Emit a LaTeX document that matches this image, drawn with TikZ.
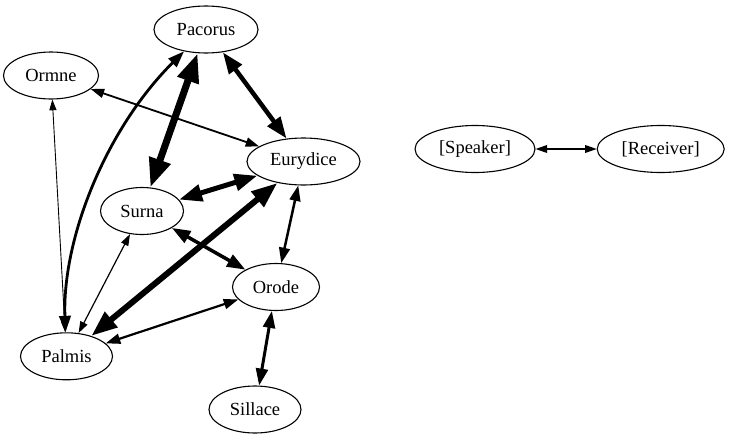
\documentclass[tikz,border=0pt]{standalone}
\usepackage{fontspec}
\setmainfont{Liberation Serif}
\newfontfamily\actorfont{Liberation Serif}
\usetikzlibrary{shapes.geometric,arrows.meta}

\begin{document}
\begin{tikzpicture}[x=1pt,y=-1pt,
  actor/.style={draw,ellipse,line width=1.1pt,inner sep=0pt,minimum height=47pt,
    font=\actorfont\fontsize{18.5}{20}\selectfont},
  rel/.code={\pgfmathsetmacro\hl{8+3*#1}\pgfmathsetmacro\hw{5+2.3*#1}%
    \tikzset{line width=#1pt,>={Triangle[length=\hl pt,width=\hw pt]},<->}}]

\useasboundingbox (0,0) rectangle (730,439);

%左边的人物
\node[actor,minimum width=104pt] (pac) at (206,29.5) {Pacorus};
\node[actor,minimum width=95pt]  (orm) at (51,75.5) {Ormne};
\node[actor,minimum width=113pt] (eur) at (303.5,161.5) {Eurydice};
\node[actor,minimum width=83pt]  (sur) at (142,211) {Surna};
\node[actor,minimum width=87pt]  (oro) at (276,287) {Orode};
\node[actor,minimum width=92pt]  (pal) at (66.5,356.3) {Palmis};
\node[actor,minimum width=92pt]  (sil) at (255,409.5) {Sillace};
%右边的图例
\node[actor,minimum width=120pt] (spk) at (475,149) {[Speaker]};
\node[actor,minimum width=127pt] (rcv) at (660.7,149) {[Receiver]};

%人物之间的关系，线越粗说得越多
\draw[rel=7]   (pac) -- (sur);
\draw[rel=4.5] (pac) -- (eur);
\draw[rel=2.8] (pac) .. controls (105,130) and (62,240) .. (pal);
\draw[rel=1.8] (orm) -- (eur);
\draw[rel=0.9] (orm) -- (pal);
\draw[rel=5]   (eur) -- (sur);
\draw[rel=6]   (eur) -- (pal);
\draw[rel=2.5] (eur) -- (oro);
\draw[rel=3.5] (sur) -- (oro);
\draw[rel=1.2] (sur) -- (pal);
\draw[rel=2.2] (oro) -- (pal);
\draw[rel=3]   (oro) -- (sil);
\draw[rel=1.2] (spk) -- (rcv);

\end{tikzpicture}
\end{document}
